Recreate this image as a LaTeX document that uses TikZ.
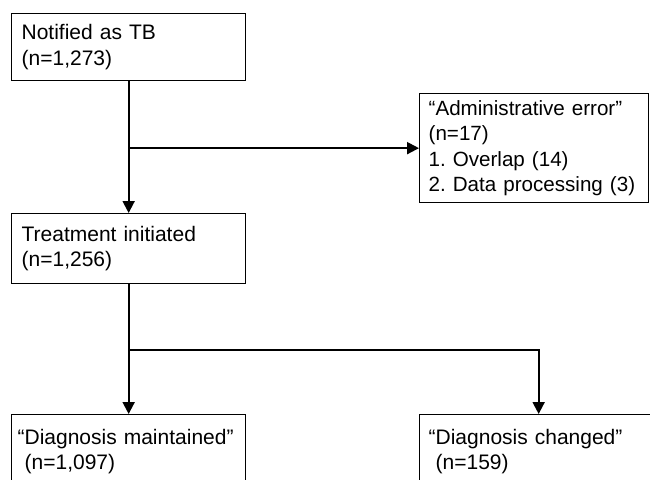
\documentclass[tikz,border=0pt]{standalone}
\usepackage{fontspec}
\setmainfont{Liberation Sans}
\usetikzlibrary{arrows.meta}
\newcommand{\boxfont}{\fontsize{21}{25.5}\selectfont\frenchspacing\hyphenpenalty=10000\relax}

\begin{document}
\begin{tikzpicture}[x=1pt, y=-1pt, thick,
			box/.style={draw, line width=1.3pt, anchor=north west, align=left,
				inner xsep=10pt, inner ysep=0pt, font=\boxfont},
			flow/.style={line width=2pt, -{Triangle[length=12pt,width=12pt]}}]
			
			\node[box, minimum width=234pt, minimum height=67pt, text width=214pt] (tb) at (11,13) {Notified as TB\\(n=1,273)};
			\node[box, minimum width=229pt, minimum height=109pt, text width=211pt, inner xsep=9pt] (admin) at (419,93) {\fontsize{20.6}{25.5}\selectfont “Administrative error”\\(n=17)\\1. Overlap (14)\\2. Data processing (3)};
			\node[box, minimum width=234pt, minimum height=70pt, text width=214pt] (treat) at (11,213) {Treatment initiated\\(n=1,256)};
			\node[box, minimum width=234pt, minimum height=74pt, text width=222pt, inner xsep=6pt] (maint) at (11,414) {“Diagnosis maintained”\\\phantom{“}(n=1,097)};
			\node[box, minimum width=238pt, minimum height=74pt, text width=220pt, inner xsep=9pt] (changed) at (419,414) {“Diagnosis changed”\\\phantom{“}(n=159)};
			
			\coordinate (split) at (treat.south |- 0,350);
			
			\draw[flow] (tb.south) -- (treat.north);
			\draw[flow] (tb.south |- admin.west) -- (admin.west);
			\draw[flow] (treat.south) -- (maint.north);
			\draw[flow] (split) -| (changed.north);
			
			\pgfresetboundingbox
			\useasboundingbox (0,0) rectangle (650,479);
		\end{tikzpicture}
\end{document}
